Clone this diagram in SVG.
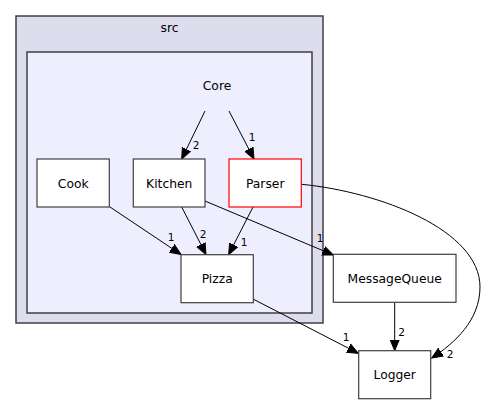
<svg xmlns="http://www.w3.org/2000/svg" width="486" height="404" viewBox="0 0 486 404">
<style>
text{font-family:"DejaVu Sans",sans-serif;fill:#000}
.n{font-size:12.3px;text-anchor:middle}
.l{font-size:10.5px;text-anchor:middle}
.box{fill:#fff;stroke:#404040;stroke-width:1.2}
.e{fill:none;stroke:#000;stroke-width:1;marker-end:url(#ah)}
</style>
<defs>
<marker id="ah" markerUnits="userSpaceOnUse" markerWidth="14" markerHeight="12" viewBox="0 -6 14 12" refX="11" refY="0" orient="auto">
<path d="M0,-4.6 L11,0 L0,4.6 z" fill="#000" stroke="#000" stroke-width="1"/>
</marker>
</defs>
<rect width="486" height="404" fill="#fff"/>
<g id="cluster_src">
<rect x="16" y="16" width="307" height="307" fill="#ddddee" stroke="#404040" stroke-width="1.5"/>
<text class="n" x="169.5" y="32">src</text>
</g>
<g id="cluster_core">
<rect x="27" y="52" width="285" height="261" fill="#eeeeff" stroke="#404040" stroke-width="1.5"/>
<text class="n" x="217" y="90">Core</text>
</g>
<g id="connectors">
<line class="e" x1="205" y1="111" x2="181.7" y2="159"/>
<text class="l" x="196" y="149">2</text>
<line class="e" x1="229" y1="111" x2="254" y2="159"/>
<text class="l" x="252" y="141">1</text>
<line class="e" x1="110" y1="207" x2="181" y2="254.5"/>
<text class="l" x="171" y="241">1</text>
<line class="e" x1="181.7" y1="207" x2="206" y2="254.5"/>
<text class="l" x="203" y="238">2</text>
<line class="e" x1="253" y1="207" x2="228.7" y2="254.5"/>
<text class="l" x="244" y="246">1</text>
<line class="e" x1="205" y1="201" x2="333.3" y2="255"/>
<text class="l" x="320" y="242">1</text>
<path class="e" d="M301.7,184.3 C380,192 480,230 480,287 C480,320 455,343 431.7,358"/>
<text class="l" x="450" y="358">2</text>
<line class="e" x1="253" y1="299" x2="358.3" y2="353.3"/>
<text class="l" x="346" y="341">1</text>
<line class="e" x1="394.7" y1="302.3" x2="394.7" y2="350.7"/>
<text class="l" x="401.5" y="336">2</text>
</g>
<g id="node_cook">
<rect class="box" x="37" y="159" width="72.3" height="48"/>
<text class="n" x="73.2" y="187.5">Cook</text>
</g>
<g id="node_kitchen">
<rect class="box" x="133.3" y="159" width="71.7" height="48"/>
<text class="n" x="169.2" y="187.5">Kitchen</text>
</g>
<g id="node_parser">
<rect class="box" x="229" y="159" width="72.3" height="48" style="stroke:#ff0000"/>
<text class="n" x="265.2" y="187.5">Parser</text>
</g>
<g id="node_pizza">
<rect class="box" x="181" y="254.7" width="72.3" height="48"/>
<text class="n" x="217.2" y="283">Pizza</text>
</g>
<g id="node_messagequeue">
<rect class="box" x="333.3" y="254.3" width="122.7" height="48"/>
<text class="n" x="394.7" y="282.8">MessageQueue</text>
</g>
<g id="node_logger">
<rect class="box" x="358.7" y="350.7" width="72" height="48"/>
<text class="n" x="394.7" y="379">Logger</text>
</g>
</svg>
